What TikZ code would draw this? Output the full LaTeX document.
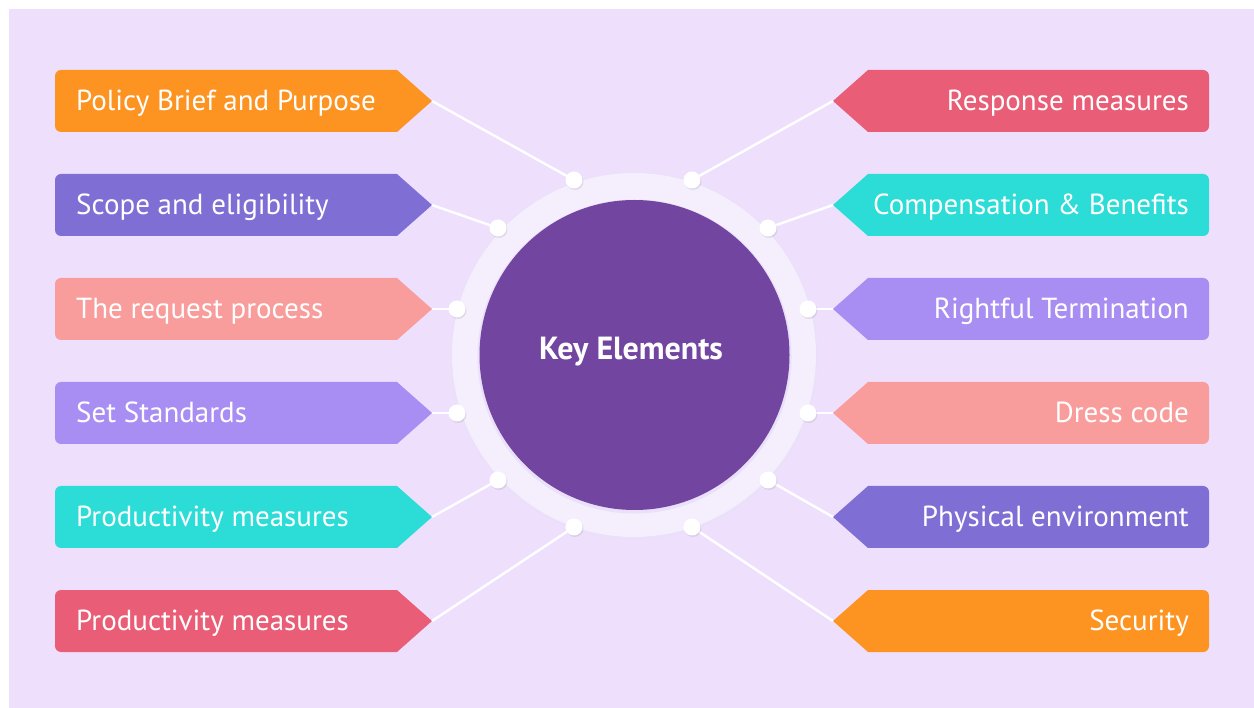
\documentclass[tikz,border=0pt]{standalone}
\usepackage{fontspec}
\setmainfont{PT Sans}
\usetikzlibrary{shadows}
\definecolor{bgc}{HTML}{EEE0FD}
\definecolor{ringc}{HTML}{F4EEFD}
\definecolor{ringedge}{HTML}{EAE0F9}
\definecolor{corec}{HTML}{7246A0}
\definecolor{corange}{HTML}{FD9422}
\definecolor{cpurple}{HTML}{7F6FD5}
\definecolor{csalmon}{HTML}{F89D9B}
\definecolor{clilac}{HTML}{A88EF2}
\definecolor{cteal}{HTML}{2CDCD6}
\definecolor{cred}{HTML}{E95D76}
\tikzset{
  lbl/.style={text=white, inner sep=0pt, font=\fontsize{29}{34}\selectfont},
  dotnode/.style={circle, fill=white, minimum size=17pt, inner sep=0pt,
    drop shadow={opacity=0.18, shadow xshift=1pt, shadow yshift=-1.5pt}},
  link/.style={white, line width=2.4pt},
}
% left box: name, y, colour, text
\newcommand{\leftbox}[4]{%
  \fill[#3] (432,#2) -- (397,#2-31) [rounded corners=6pt] -- (55,#2-31) -- (55,#2+31) [sharp corners] -- (397,#2+31) -- cycle;
  \coordinate (#1) at (432,#2);
  \node[lbl, anchor=base west] (#1t) at (76,#2+9.5) {#4};
}
\newcommand{\rightbox}[4]{%
  \fill[#3] (833,#2) -- (868,#2-31) [rounded corners=6pt] -- (1209,#2-31) -- (1209,#2+31) [sharp corners] -- (868,#2+31) -- cycle;
  \coordinate (#1) at (833,#2);
  \node[lbl, anchor=base east] (#1t) at (1189,#2+9.5) {#4};
}
\begin{document}
\begin{tikzpicture}[x=1pt, y=-1pt]
\useasboundingbox (0,0) rectangle (1254,708);
\fill[white] (0,0) rectangle (1254,708);
\fill[bgc] (9,9) rectangle (1254,708);

% ring and core
\fill[ringedge] (634,356) circle (184);
\fill[ringc] (634,355) circle (182);
\fill[ringedge] (634.5,356.5) circle (157);
\node[circle, fill=corec, minimum size=310pt, inner sep=0pt] (core) at (634.5,355) {};
\node[text=white, font=\bfseries\fontsize{32}{36}\selectfont, anchor=base] (coretext) at (631,360) {Key Elements};

% boxes
\leftbox{L1}{101}{corange}{Policy Brief and Purpose}
\leftbox{L2}{205}{cpurple}{Scope and eligibility}
\leftbox{L3}{309}{csalmon}{The request process}
\leftbox{L4}{413}{clilac}{Set Standards}
\leftbox{L5}{517}{cteal}{Productivity measures}
\leftbox{L6}{621}{cred}{Productivity measures}
\rightbox{R1}{101}{cred}{Response measures}
\rightbox{R2}{205}{cteal}{Compensation \& Benefits}
\rightbox{R3}{309}{clilac}{Rightful Termination}
\rightbox{R4}{413}{csalmon}{Dress code}
\rightbox{R5}{517}{cpurple}{Physical environment}
\rightbox{R6}{621}{corange}{Security}

% dots positions
\coordinate (d1) at (574,180);
\coordinate (d2) at (498,228);
\coordinate (d3) at (457,309);
\coordinate (d4) at (457,413);
\coordinate (d5) at (498,480);
\coordinate (d6) at (574,527);
\coordinate (e1) at (692,180);
\coordinate (e2) at (768,228);
\coordinate (e3) at (808,309);
\coordinate (e4) at (808,413);
\coordinate (e5) at (768,480);
\coordinate (e6) at (692,527);

\foreach \i in {1,...,6} {
  \draw[link] (L\i) -- (d\i);
  \draw[link] (R\i) -- (e\i);
}
\foreach \i in {1,...,6} {
  \node[dotnode] (dl\i) at (d\i) {};
  \node[dotnode] (dr\i) at (e\i) {};
}
\end{tikzpicture}
\end{document}
